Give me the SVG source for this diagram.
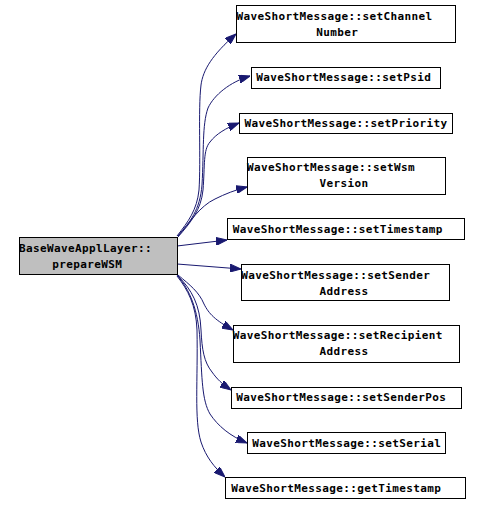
<svg xmlns="http://www.w3.org/2000/svg" width="481" height="505" viewBox="0 0 481 505">
<style>
.box{fill:#ffffff;stroke:#000000;stroke-width:1}
.main{fill:#bfbfbf;stroke:#000000;stroke-width:1}
text{font-family:"DejaVu Sans Mono","Liberation Mono",monospace;font-weight:bold;font-size:11px;letter-spacing:0.38px;fill:#000000}
.edge{fill:none;stroke:#191970;stroke-width:1}
</style>
<defs>
<marker id="arr" viewBox="0 0 11 8" refX="11" refY="4" markerWidth="11" markerHeight="8" markerUnits="userSpaceOnUse" orient="auto">
<path d="M0,0 L11,4 L0,8 z" fill="#191970" stroke="#191970" stroke-width="1"/>
</marker>
</defs>
<rect x="0" y="0" width="481" height="505" fill="#ffffff"/>
<g id="edges">
<path class="edge" marker-end="url(#arr)" d="M177,236 C188,222 197,210 199,190 C201,160 198,110 201,85 C203,70 212,55 236,34"/>
<path class="edge" marker-end="url(#arr)" d="M178,236 C190,222 200,210 202,185 C204,150 202,125 208,108 C214,95 230,82 250,76"/>
<path class="edge" marker-end="url(#arr)" d="M178,237 C191,222 201,210 203,190 C205,165 203,150 210,142 C216,134 226,128 239,123"/>
<path class="edge" marker-end="url(#arr)" d="M178,236 C190,222 200,206 215,199 C225,194 235,190 247,187"/>
<path class="edge" marker-end="url(#arr)" d="M177,246 L227,240"/>
<path class="edge" marker-end="url(#arr)" d="M177,264 L241,269"/>
<path class="edge" marker-end="url(#arr)" d="M178,275 C190,285 199,292 204,304 C209,314 215,320 233,330"/>
<path class="edge" marker-end="url(#arr)" d="M178,276 C192,290 200,305 201,330 C202,350 204,362 212,372 C217,379 222,384 231,390"/>
<path class="edge" marker-end="url(#arr)" d="M177,275 C190,290 198,310 200,340 C202,380 202,400 210,414 C218,426 230,436 247,443"/>
<path class="edge" marker-end="url(#arr)" d="M177,276 C188,290 196,305 197,330 C198,380 194,420 201,442 C206,457 214,467 225,477"/>
</g>
<g id="node-main">
<rect class="main" x="19.5" y="237.5" width="158" height="37"/>
<text x="19" y="251.5">BaseWaveApplLayer::</text>
<text x="52.2" y="267.5">prepareWSM</text>
</g>
<g id="node-setChannelNumber">
<rect class="box" x="236.5" y="5.5" width="219" height="37"/>
<text x="236.5" y="19.5">WaveShortMessage::setChannel</text>
<text x="316.2" y="35.5">Number</text>
</g>
<g id="node-setPsid">
<rect class="box" x="251.5" y="67.5" width="189" height="21"/>
<text x="256.2" y="81">WaveShortMessage::setPsid</text>
</g>
<g id="node-setPriority">
<rect class="box" x="239.5" y="113.5" width="213" height="20"/>
<text x="244.5" y="127">WaveShortMessage::setPriority</text>
</g>
<g id="node-setWsmVersion">
<rect class="box" x="247.5" y="157.5" width="198" height="37"/>
<text x="247" y="171.2">WaveShortMessage::setWsm</text>
<text x="319.5" y="187.2">Version</text>
</g>
<g id="node-setTimestamp">
<rect class="box" x="227.5" y="218.5" width="237" height="21"/>
<text x="232.8" y="233">WaveShortMessage::setTimestamp</text>
</g>
<g id="node-setSenderAddress">
<rect class="box" x="241.5" y="264.5" width="208" height="36"/>
<text x="241.2" y="278.5">WaveShortMessage::setSender</text>
<text x="319.5" y="294.5">Address</text>
</g>
<g id="node-setRecipientAddress">
<rect class="box" x="233.5" y="325.5" width="226" height="37"/>
<text x="232.8" y="339">WaveShortMessage::setRecipient</text>
<text x="319.5" y="355">Address</text>
</g>
<g id="node-setSenderPos">
<rect class="box" x="231.5" y="387.5" width="230" height="21"/>
<text x="236.2" y="401">WaveShortMessage::setSenderPos</text>
</g>
<g id="node-setSerial">
<rect class="box" x="247.5" y="432.5" width="198" height="21"/>
<text x="252.2" y="446.5">WaveShortMessage::setSerial</text>
</g>
<g id="node-getTimestamp">
<rect class="box" x="225.5" y="477.5" width="240" height="21"/>
<text x="231.2" y="491.5">WaveShortMessage::getTimestamp</text>
</g>
</svg>
